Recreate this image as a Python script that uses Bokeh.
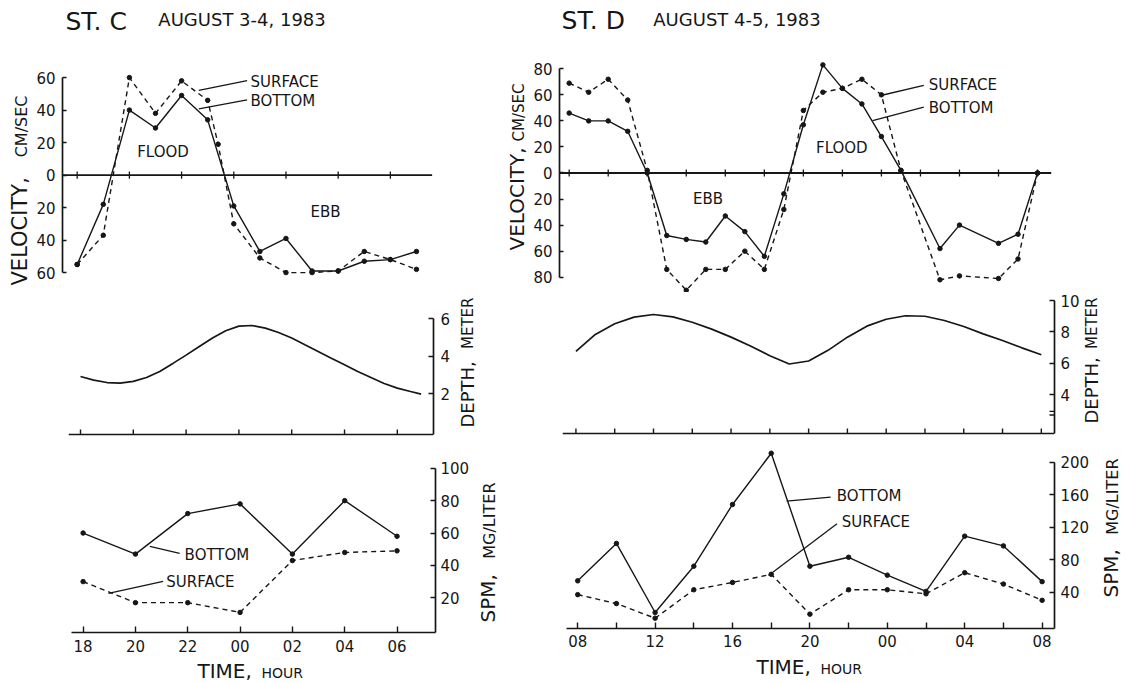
from math import pi

from bokeh.core.properties import value
from bokeh.embed import file_html
from bokeh.layouts import column, row
from bokeh.models import CustomJSTickFormatter, FixedTicker, Range1d
from bokeh.plotting import figure
from bokeh.resources import INLINE

FONT = "DejaVu Sans"
INK = "#161616"

# ---------------- Station C, August 3-4, 1983 (hours after 18:00) ----------------
vel_hours_C_bottom = [0, 1, 2, 3, 4, 5, 6, 7, 8, 9, 10, 11, 12, 13]
vel_C_bottom = [-55, -18, 40, 29, 49, 34, -19, -47, -39, -59, -59, -53, -52, -47]
vel_hours_C_surface = [0, 1, 2, 3, 4, 5, 5.4, 6, 7, 8, 9, 10, 11, 12, 13]
vel_C_surface = [-55, -37, 60, 38, 58, 46, 19, -30, -51, -60, -60, -59, -47, -52, -58]

depth_hours_C = [0, 0.5, 1, 1.5, 2, 2.5, 3, 3.5, 4, 4.5, 5, 5.5, 6, 6.5, 7, 7.5,
                 8, 8.5, 9, 9.5, 10, 10.5, 11, 11.5, 12, 12.5, 12.9]
depth_C = [2.92, 2.73, 2.60, 2.57, 2.66, 2.87, 3.19, 3.62, 4.06, 4.52, 4.97, 5.36,
           5.61, 5.64, 5.50, 5.27, 4.97, 4.61, 4.26, 3.90, 3.55, 3.19, 2.87, 2.55,
           2.30, 2.12, 1.98]

spm_hours_C = [0, 2, 4, 6, 8, 10, 12]
spm_C_bottom = [60, 47, 72, 78, 47, 80, 58]
spm_C_surface = [30, 17, 17, 11, 43, 48, 49]
hour_ticks_C = [0, 2, 4, 6, 8, 10, 12]
hour_labels_C = ["18", "20", "22", "00", "02", "04", "06"]

# ---------------- Station D, August 4-5, 1983 (hours after 08:00) ----------------
vel_hours_D = [0, 1, 2, 3, 4, 5, 6, 7, 8, 9, 10, 11, 12, 13, 14, 15, 16, 17,
               19, 20, 22, 23, 24]
vel_D_bottom = [46, 40, 40, 32, 0, -48, -51, -53, -33, -45, -64, -16, 37, 83, 65,
                53, 28, 2, -58, -40, -54, -47, 0]
vel_D_surface = [69, 62, 72, 56, 2, -74, -90, -74, -74, -60, -74, -28, 48, 62, 65,
                 72, 60, 2, -82, -79, -81, -66, 0]

depth_hours_D = [0, 1, 2, 3, 4, 5, 6, 7, 8, 9, 10, 11, 12, 13, 14, 15, 16, 17, 18,
                 19, 20, 21, 22, 23, 24]
depth_D = [6.76, 7.84, 8.52, 8.94, 9.11, 8.96, 8.62, 8.18, 7.67, 7.10, 6.49, 5.96,
           6.15, 6.83, 7.67, 8.37, 8.81, 9.03, 9.00, 8.73, 8.35, 7.88, 7.46, 6.99, 6.55]

spm_hours_D = [0, 2, 4, 6, 8, 10, 12, 14, 16, 18, 20, 22, 24]
spm_D_bottom = [54, 100, 15, 72, 148, 211, 72, 83, 61, 41, 109, 97, 53]
spm_D_surface = [37, 26, 8, 43, 52, 62, 13, 43, 43, 38, 64, 50, 30]
hour_ticks_D = [0, 4, 8, 12, 16, 20, 24]
hour_minor_D = [2, 6, 10, 14, 18, 22]
hour_labels_D = ["08", "12", "16", "20", "00", "04", "08"]
hour_marks_D = [0, 2, 4, 6, 8, 10, 12, 14, 16, 18, 20, 22, 24]

vel_ticks_C = [-60, -40, -20, 0, 20, 40, 60]
vel_ticks_D = [-80, -60, -40, -20, 0, 20, 40, 60, 80]
depth_ticks_C = [2, 4, 6]
depth_ticks_D = [4, 6, 8, 10]
spm_ticks_C = [20, 40, 60, 80, 100]
spm_ticks_D = [40, 80, 120, 160, 200]


def make_panel(w, h, xr, yr, borders, x_axis=True, y_side="left"):
    left, right, top, bottom = borders
    p = figure(width=w, height=h, x_range=Range1d(*xr), y_range=Range1d(*yr),
               output_backend="svg", toolbar_location=None, title=None,
               x_axis_location="below" if x_axis else None,
               y_axis_location=y_side,
               min_border_left=left, min_border_right=right,
               min_border_top=top, min_border_bottom=bottom)
    p.outline_line_color = None
    p.background_fill_color = "white"
    p.border_fill_color = "white"
    p.grid.visible = False
    for ax in p.axis:
        ax.axis_line_color = INK
        ax.axis_line_width = 1.7
        ax.major_tick_line_color = INK
        ax.major_tick_line_width = 1.4
        ax.minor_tick_line_color = None
        ax.major_label_text_font = FONT
        ax.major_label_text_font_size = "15px"
        ax.major_label_text_color = INK
    return p


def caption_strip(x0, x1, y0, y1, height, bottom):
    """Text-only panel; its data units are page pixels (y negated)."""
    p = figure(width=x1 - x0, height=height, x_range=Range1d(x0, x1),
               y_range=Range1d(-y1, -y0), output_backend="svg",
               toolbar_location=None, title=None, x_axis_location=None,
               y_axis_location=None, min_border_left=0, min_border_right=0,
               min_border_top=0, min_border_bottom=bottom)
    p.outline_line_color = None
    p.background_fill_color = "white"
    p.border_fill_color = "white"
    p.grid.visible = False
    return p


def upright(p, x, y, text, size, align):
    p.text(x=[x], y=[-y], text=[text], angle=pi / 2, text_font=value(FONT),
           text_font_size=value(size), text_color=INK, text_align=align,
           text_baseline="middle")


def flat(p, x, y, text, size):
    p.text(x=[x], y=[-y], text=[text], text_font=value(FONT),
           text_font_size=value(size), text_color=INK, text_align="left",
           text_baseline="middle")


def series(p, xs, ys, dashed):
    p.line(xs, ys, line_color=INK, line_width=1.4,
           line_dash="5 4" if dashed else "solid")
    p.scatter(xs, ys, size=4.5, fill_color=INK, line_color=INK)


def words(p, x, y, text, size="15px", align="left", baseline="middle"):
    p.text(x=[x], y=[y], text=[text], text_font=value(FONT),
           text_font_size=value(size), text_color=INK,
           text_align=align, text_baseline=baseline)


def leader(p, x0, y0, x1, y1):
    p.segment(x0=[x0], y0=[y0], x1=[x1], y1=[y1], line_color=INK, line_width=1.3)


def baseline_with_ticks(p, level, ticks, tick_height):
    p.segment(x0=[p.x_range.start], y0=[level], x1=[p.x_range.end], y1=[level],
              line_color=INK, line_width=1.7)
    p.segment(x0=ticks, y0=[level] * len(ticks), x1=ticks,
              y1=[level + tick_height] * len(ticks), line_color=INK, line_width=1.4)


def velocity_axis(p, ticks):
    ax = p.yaxis[0]
    ax.ticker = FixedTicker(ticks=ticks)
    ax.formatter = CustomJSTickFormatter(code="return Math.abs(tick).toFixed(0);")
    ax.bounds = (ticks[0], ticks[-1])
    ax.major_tick_in = 4
    ax.major_tick_out = 0
    ax.major_label_standoff = 7


def zero_line(p, x_end, ticks, half):
    p.segment(x0=[p.x_range.start], y0=[0], x1=[x_end], y1=[0],
              line_color=INK, line_width=1.8)
    p.segment(x0=ticks, y0=[-half] * len(ticks), x1=ticks, y1=[half] * len(ticks),
              line_color=INK, line_width=1.3)


def right_value_axis(p, ticks, bounds, standoff):
    ax = p.yaxis[0]
    ax.ticker = FixedTicker(ticks=ticks)
    ax.bounds = bounds
    ax.major_tick_in = 5
    ax.major_tick_out = 0
    ax.major_label_standoff = standoff
    return ax


def time_axis(p, ticks, labels, minor, standoff):
    xa = p.xaxis[0]
    xa.ticker = FixedTicker(ticks=ticks, minor_ticks=minor)
    xa.major_label_overrides = dict(zip(ticks, labels))
    xa.major_tick_in = 6
    xa.major_tick_out = 0
    xa.minor_tick_in = 6
    xa.minor_tick_out = 0
    xa.minor_tick_line_color = INK if minor else None
    xa.minor_tick_line_width = 1.4
    xa.major_label_standoff = standoff


# ======================= Station C column =======================
vc_cap = caption_strip(0, 31, 0, 292, 292, 0)
upright(vc_cap, 19.5, 285, "VELOCITY,", "21px", "left")
upright(vc_cap, 21.0, 95, "CM/SEC", "16px", "right")

vc = make_panel(469, 292, (-0.563, 16.22), (-72.25, 107.45), (31, 0, 0, 0),
                x_axis=False)
velocity_axis(vc, vel_ticks_C)
zero_line(vc, 13.6, hour_ticks_C, 2.2)
series(vc, vel_hours_C_surface, vel_C_surface, True)
series(vc, vel_hours_C_bottom, vel_C_bottom, False)
words(vc, -0.45, 94.5, "ST. C", "25px", baseline="alphabetic")
words(vc, 3.11, 95.8, "AUGUST 3-4, 1983", "18px", baseline="alphabetic")
words(vc, 6.64, 57.2, "SURFACE")
words(vc, 6.64, 45.9, "BOTTOM")
leader(vc, 4.66, 52.1, 6.51, 58.2)
leader(vc, 4.66, 40.8, 6.51, 46.3)
words(vc, 2.30, 14.1, "FLOOD")
words(vc, 8.94, -22.8, "EBB")

dc = make_panel(458, 150, (-0.4545, 13.37), (-0.277, 7.40), (68, 25, 0, 6),
                x_axis=False, y_side="right")
right_value_axis(dc, depth_ticks_C, (-0.17, 6), 7)
baseline_with_ticks(dc, -0.17, hour_ticks_C, 0.27)
dc.line(depth_hours_C, depth_C, line_color=INK, line_width=1.7)

dc_cap = caption_strip(458, 500, 292, 436, 150, 6)
upright(dc_cap, 466.5, 427, "DEPTH,", "18px", "left")
upright(dc_cap, 467.5, 297, "METER", "15px", "right")

sc = make_panel(472, 218, (-0.4435, 13.47), (-1.42, 115.9), (71, 34, 0, 28),
                y_side="right")
right_value_axis(sc, spm_ticks_C, (-1.42, 100), 5)
time_axis(sc, hour_ticks_C, hour_labels_C, [], 7)
series(sc, spm_hours_C, spm_C_surface, True)
series(sc, spm_hours_C, spm_C_bottom, False)
words(sc, 3.88, 46.5, "BOTTOM")
leader(sc, 2.55, 51.7, 3.69, 47.5)
words(sc, 3.18, 29.6, "SURFACE")
leader(sc, 0.97, 22.8, 3.06, 30.2)

sc_cap = caption_strip(472, 500, 442, 632, 218, 28)
upright(sc_cap, 487.5, 622, "SPM,", "20px", "left")
upright(sc_cap, 489.0, 482, "MG/LITER", "16px", "right")

tc_cap = caption_strip(0, 500, 660, 683, 23, 0)
flat(tc_cap, 197, 670, "TIME,", "20px")
flat(tc_cap, 261, 672, "HOUR", "14px")

# ======================= Station D column =======================
vd_cap = caption_strip(500, 530, 0, 292, 292, 0)
upright(vd_cap, 516.5, 250, "VELOCITY,", "20px", "left")
upright(vd_cap, 518.5, 83, "CM/SEC", "15px", "right")

vd = make_panel(597, 292, (-0.496, 28.61), (-91.75, 132.44), (28, 0, 0, 0),
                x_axis=False)
velocity_axis(vd, vel_ticks_D)
zero_line(vd, 24.7, hour_marks_D, 2.6)
series(vd, vel_hours_D, vel_D_surface, True)
series(vd, vel_hours_D, vel_D_bottom, False)
words(vd, -0.39, 117.0, "ST. D", "25px", baseline="alphabetic")
words(vd, 4.31, 118.0, "AUGUST 4-5, 1983", "18px", baseline="alphabetic")
words(vd, 18.43, 67.2, "SURFACE")
words(vd, 18.43, 49.9, "BOTTOM")
leader(vd, 15.97, 59.5, 18.17, 67.2)
leader(vd, 15.55, 40.3, 18.17, 50.5)
words(vd, 12.65, 19.3, "FLOOD")
words(vd, 6.34, -19.6, "EBB")

dd = make_panel(582, 152, (-0.693, 24.68), (1.412, 10.51), (62, 26, 0, 9),
                x_axis=False, y_side="right")
right_value_axis(dd, depth_ticks_D, (1.539, 10), 6)
baseline_with_ticks(dd, 1.539, hour_marks_D, 0.32)
dd.line(depth_hours_D, depth_D, line_color=INK, line_width=1.7)
dd.scatter([24.68, 24.68], [2.95, 2.72], marker="dash", size=10,
           line_color=INK, line_width=1.4)

dd_cap = caption_strip(1082, 1127, 292, 435, 152, 9)
upright(dd_cap, 1090.5, 423, "DEPTH,", "18px", "left")
upright(dd_cap, 1091.5, 297, "METER", "15px", "right")

sd = make_panel(592, 208, (-0.58, 24.64), (-4.68, 221.8), (66, 35, 0, 24),
                y_side="right")
right_value_axis(sd, spm_ticks_D, (-4.68, 200), 6)
time_axis(sd, hour_ticks_D, hour_labels_D, hour_minor_D, 6)
series(sd, spm_hours_D, spm_D_surface, True)
series(sd, spm_hours_D, spm_D_bottom, False)
words(sd, 13.39, 159, "BOTTOM")
leader(sd, 10.8, 152, 13.07, 156.9)
words(sd, 13.65, 126.2, "SURFACE")
leader(sd, 9.86, 60.6, 13.4, 124.2)

sd_cap = caption_strip(1092, 1127, 444, 628, 208, 24)
upright(sd_cap, 1110.5, 597, "SPM,", "20px", "left")
upright(sd_cap, 1112.0, 458, "MG/LITER", "16px", "right")

td_cap = caption_strip(500, 1127, 652, 683, 31, 0)
flat(td_cap, 756, 666, "TIME,", "20px")
flat(td_cap, 820, 668, "HOUR", "14px")

layout = row(
    column(row(vc_cap, vc), row(dc, dc_cap), row(sc, sc_cap), tc_cap),
    column(row(vd_cap, vd), row(dd, dd_cap), row(sd, sd_cap), td_cap),
)

with open("out.html", "w") as f:
    f.write(file_html(layout, INLINE))
